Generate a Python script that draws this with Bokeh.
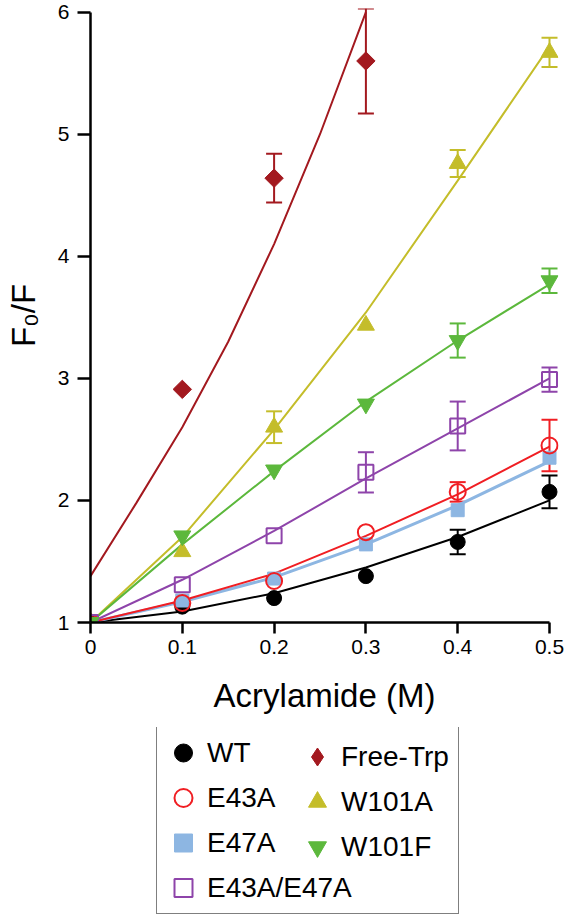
from bokeh.plotting import figure
from bokeh.layouts import column
from bokeh.models import (Range1d, Legend, LegendItem, Whisker, TeeHead,
                          ColumnDataSource, FixedTicker)
from bokeh.embed import file_html
from bokeh.resources import INLINE

# ---------------- data ----------------
conc = [0.0, 0.1, 0.2, 0.3, 0.4, 0.5]
trp_conc = [0.0, 0.1, 0.2, 0.3]
trp_fit_conc = [0.0, 0.05, 0.1, 0.15, 0.2, 0.25, 0.3]

xticks = [0.0, 0.1, 0.2, 0.3, 0.4, 0.5]
xtick_labels = ["0", "0.1", "0.2", "0.3", "0.4", "0.5"]
yticks = [1, 2, 3, 4, 5, 6]
ytick_labels = ["1", "2", "3", "4", "5", "6"]

wt = [1.0, 1.13, 1.20, 1.38, 1.66, 2.07]
wt_err = [0, 0, 0, 0, 0.10, 0.135]
wt_fit = [1.0, 1.09, 1.24, 1.45, 1.70, 2.00]

e43a = [1.0, 1.16, 1.34, 1.74, 2.07, 2.45]
e43a_err = [0, 0, 0, 0, 0.08, 0.21]
e43a_fit = [1.0, 1.18, 1.40, 1.71, 2.05, 2.44]

e47a = [1.0, 1.18, 1.36, 1.64, 1.92, 2.35]
e47a_err = [0, 0, 0, 0, 0, 0]
e47a_fit = [1.0, 1.17, 1.37, 1.64, 1.96, 2.32]

dm = [1.0, 1.31, 1.71, 2.23, 2.61, 2.99]
dm_err = [0, 0, 0, 0.165, 0.20, 0.10]
dm_fit = [1.0, 1.35, 1.75, 2.18, 2.59, 3.00]

trp = [1.0, 2.91, 4.64, 5.60]
trp_err = [0, 0, 0.20, 0.43]
trp_fit = [1.38, 1.98, 2.60, 3.30, 4.10, 5.00, 6.00]

w101a = [1.0, 1.58, 2.60, 3.435, 4.76, 5.67]
w101a_err = [0, 0, 0.13, 0, 0.11, 0.12]
w101a_fit = [1.0, 1.70, 2.58, 3.54, 4.62, 5.72]

w101f = [1.0, 1.71, 2.25, 2.79, 3.31, 3.80]
w101f_err = [0, 0, 0, 0, 0.14, 0.10]
w101f_fit = [1.0, 1.64, 2.24, 2.81, 3.31, 3.77]

FONT = "Liberation Sans"

# series: name, x, y, err, fit_x, fit_y, color, marker, filled, size, angle, fit width, legend marker
series = [
    ("WT", conc, wt, wt_err, conc, wt_fit, "#000000", "circle", True, 15, 0.0, 2, "circle"),
    ("E47A", conc, e47a, e47a_err, conc, e47a_fit, "#8db6e2", "square", True, 13, 0.0, 3, "square"),
    ("E43A", conc, e43a, e43a_err, conc, e43a_fit, "#f01e23", "circle", False, 16, 0.0, 2, "circle"),
    ("W101A", conc, w101a, w101a_err, conc, w101a_fit, "#c4bd2a", "triangle", True, 17, 0.0, 2, "triangle"),
    ("Free-Trp", trp_conc, trp, trp_err, trp_fit_conc, trp_fit, "#a3191f", "square", True, 13, 0.785398, 2, "diamond"),
    ("E43A/E47A", conc, dm, dm_err, conc, dm_fit, "#8e44aa", "square", False, 15, 0.0, 2, "square"),
    ("W101F", conc, w101f, w101f_err, conc, w101f_fit, "#5cb83c", "inverted_triangle", True, 17, 0.0, 2, "inverted_triangle"),
]


def add_markers(fig, s, legend_marker=False):
    name, xs, ys, errs, fx, fy, col, mk, filled, sz, ang, lw, lmk = s
    return fig.scatter(xs, ys, marker=lmk if legend_marker else mk, size=sz,
                       angle=0.0 if legend_marker else ang,
                       fill_color=col if filled else None,
                       line_color=col, line_width=1 if filled else 2)


# ---------------- main plot ----------------
p = figure(frame_width=468, frame_height=614,
           x_range=Range1d(0.0, 0.5098), y_range=Range1d(1.0, 6.03),
           output_backend="svg", toolbar_location=None,
           min_border_left=90, min_border_right=8, min_border_top=8,
           min_border_bottom=105)
p.grid.visible = False
p.outline_line_color = None
p.background_fill_color = "white"

for s in series:
    p.line(s[4], s[5], line_color=s[6], line_width=s[11])

for name, xs, ys, errs, fx, fy, col, mk, filled, sz, ang, lw, lmk in series:
    ex = [x for x, e in zip(xs, errs) if e > 0]
    lo = [y - e for y, e in zip(ys, errs) if e > 0]
    hi = [y + e for y, e in zip(ys, errs) if e > 0]
    if ex:
        src = ColumnDataSource(dict(x=ex, lo=lo, hi=hi))
        w = Whisker(source=src, base="x", lower="lo", upper="hi", dimension="height",
                    line_color=col, line_width=2,
                    upper_head=TeeHead(size=16, line_color=col, line_width=2),
                    lower_head=TeeHead(size=16, line_color=col, line_width=2))
        p.add_layout(w)

for s in series:
    add_markers(p, s)

p.xaxis.ticker = FixedTicker(ticks=xticks)
p.yaxis.ticker = FixedTicker(ticks=yticks)
p.xaxis.major_label_overrides = dict(zip(xticks, xtick_labels))
p.yaxis.major_label_overrides = dict(zip(yticks, ytick_labels))
p.xaxis.bounds = (0, 0.5)
p.yaxis.bounds = (1, 6)
p.xaxis.axis_label = "Acrylamide (M)"
p.yaxis.axis_label = "F\u2080/F"
for ax in (p.xaxis[0], p.yaxis[0]):
    ax.axis_line_width = 2.5
    ax.axis_line_color = "black"
    ax.major_tick_line_width = 2.5
    ax.major_tick_line_color = "black"
    ax.major_tick_in = 0
    ax.minor_tick_line_color = None
    ax.major_label_text_font = FONT
    ax.major_label_text_font_size = "21px"
    ax.major_label_text_color = "black"
    ax.axis_label_text_font = FONT
    ax.axis_label_text_font_size = "33px"
    ax.axis_label_text_font_style = "normal"
    ax.axis_label_text_color = "black"
p.xaxis.major_tick_out = 11
p.yaxis.major_tick_out = 13
p.xaxis.major_label_standoff = 6
p.yaxis.major_label_standoff = 8
p.xaxis.axis_label_standoff = 20
p.yaxis.axis_label_standoff = 13

# ---------------- legend (separate strip below the plot) ----------------
LG_H = 187
lg = figure(frame_width=566, frame_height=LG_H,
            x_range=Range1d(-10.0, -9.0), y_range=Range1d(-10.0, -9.0),
            output_backend="svg", toolbar_location=None,
            min_border_left=0, min_border_right=0, min_border_top=0,
            min_border_bottom=0, x_axis_type=None, y_axis_type=None)
lg.grid.visible = False
lg.outline_line_color = None
lg_renderers = {s[0]: add_markers(lg, s, legend_marker=True) for s in series}

ROW_H = 45
PAD = 3


def make_legend(names, x, boxed):
    h = len(names) * ROW_H + 2 * PAD
    leg = Legend(items=[LegendItem(label=n, renderers=[lg_renderers[n]]) for n in names],
                 location=(x, LG_H - 1 - h), orientation="vertical", margin=0,
                 padding=PAD, spacing=0, glyph_width=46, glyph_height=ROW_H,
                 label_standoff=1, label_height=ROW_H,
                 label_text_font=FONT, label_text_font_size="28px",
                 label_text_color="black")
    if boxed:
        leg.label_width = 248
        leg.border_line_color = "black"
        leg.border_line_width = 1.5
        leg.background_fill_color = "white"
        leg.background_fill_alpha = 1.0
    else:
        leg.border_line_color = None
        leg.background_fill_alpha = 0.0
    return leg


lg.add_layout(make_legend(["WT", "E43A", "E47A", "E43A/E47A"], 156, True))
lg.add_layout(make_legend(["Free-Trp", "W101A", "W101F"], 294, False))

layout = column(p, lg, spacing=0)
open("out.html", "w").write(file_html(layout, INLINE))
